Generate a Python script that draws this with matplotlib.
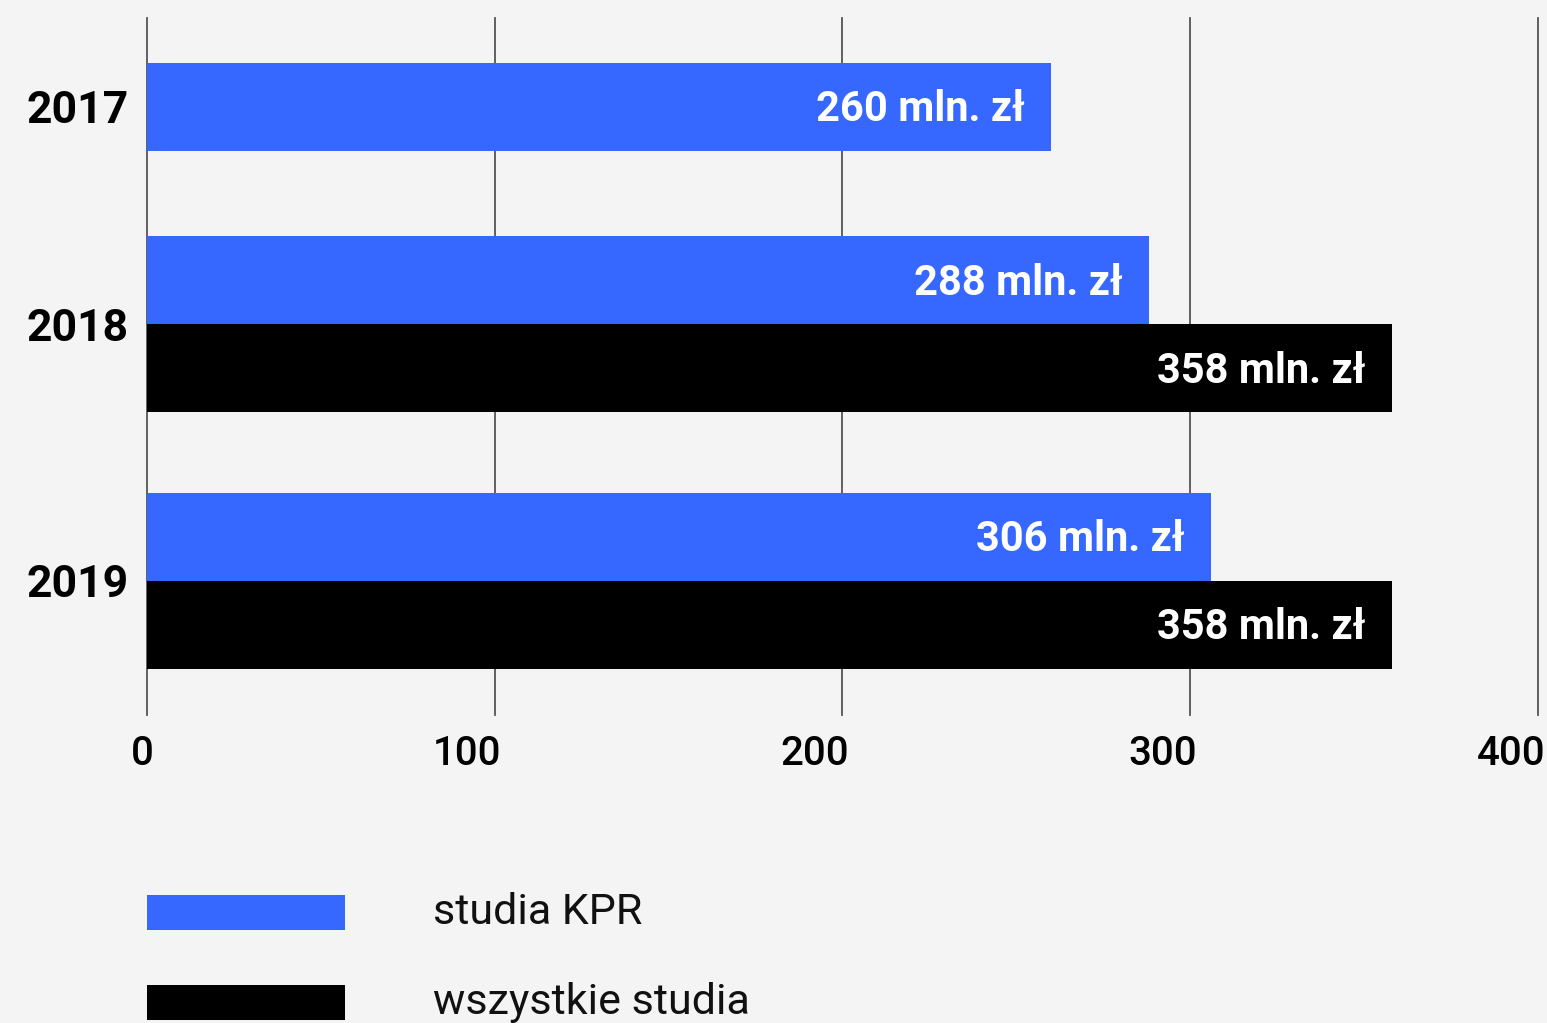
import matplotlib
matplotlib.use("Agg")
import matplotlib.pyplot as plt
from matplotlib.patches import Rectangle
from matplotlib.transforms import ScaledTranslation

years = ["2017", "2018", "2019"]
kpr = [260, 288, 306]
wszystkie = [None, 358, 358]
xticks = [0, 100, 200, 300, 400]
series_names = ["studia KPR", "wszystkie studia"]

BLUE = "#3667ff"
BLACK = "#000000"
BG = "#f4f4f4"
FONT = ["Roboto", "DejaVu Sans"]

plt.rcParams["font.family"] = FONT

fig = plt.figure(figsize=(15.47, 10.23), dpi=100, facecolor=BG)
ax = fig.add_axes([0.0950, 0.3011, 0.8992, 0.6813], facecolor=BG)

# row centres (in bar heights, counted from the top)
row_pos = [1.01, 3.48, 6.40]
h = 1.0

for i, yr in enumerate(years):
    y = row_pos[i]
    if wszystkie[i] is None:
        ax.barh(y, kpr[i], height=h, color=BLUE, zorder=3)
        ky = y
    else:
        ky = y - h / 2
        ax.barh(ky, kpr[i], height=h, color=BLUE, zorder=3)
        ax.barh(y + h / 2, wszystkie[i], height=h, color=BLACK, zorder=3)
        ax.annotate(f"{wszystkie[i]} mln. zł", (wszystkie[i], y + h / 2),
                    xytext=(-19, -2), textcoords="offset points",
                    ha="right", va="center", color="white",
                    fontsize=30, fontweight="bold", zorder=4)
    ax.annotate(f"{kpr[i]} mln. zł", (kpr[i], ky),
                xytext=(-19, -2), textcoords="offset points",
                ha="right", va="center", color="white",
                fontsize=30, fontweight="bold", zorder=4)

ax.set_xlim(0, 400)
ax.set_ylim(7.92, 0)
ax.set_xticks(xticks)
ax.set_xticklabels([])
# tick numbers sit right-aligned just past each gridline
for t in xticks:
    ax.text(t, 0, str(t), transform=ax.get_xaxis_transform() + ScaledTranslation(0.07, -0.20, fig.dpi_scale_trans),
            ha="right", va="top", fontsize=29, fontweight="medium")
ax.set_yticks([row_pos[0], row_pos[1], row_pos[2] - 0.01])
ax.set_yticklabels(years, fontsize=32, fontweight="bold")
ax.tick_params(axis="both", length=0)
ax.tick_params(axis="y", pad=13)
for s in ax.spines.values():
    s.set_visible(False)
ax.grid(axis="x", color="#555555", linewidth=1.3, zorder=0)
ax.set_axisbelow(True)
for gl in ax.get_xgridlines():
    gl.set_clip_on(False)

# legend
for (yb, col, name, ty) in [(0.0909, BLUE, series_names[0], 0.1085),
                            (0.0029, BLACK, series_names[1], 0.0205)]:
    fig.patches.append(Rectangle((0.0950, yb), 0.128, 0.0342, transform=fig.transFigure,
                                 facecolor=col, edgecolor="none"))
    fig.text(0.280, ty, name, fontsize=31, va="center", ha="left", color="#111111")

fig.savefig("out.png", dpi=100, facecolor=BG)
